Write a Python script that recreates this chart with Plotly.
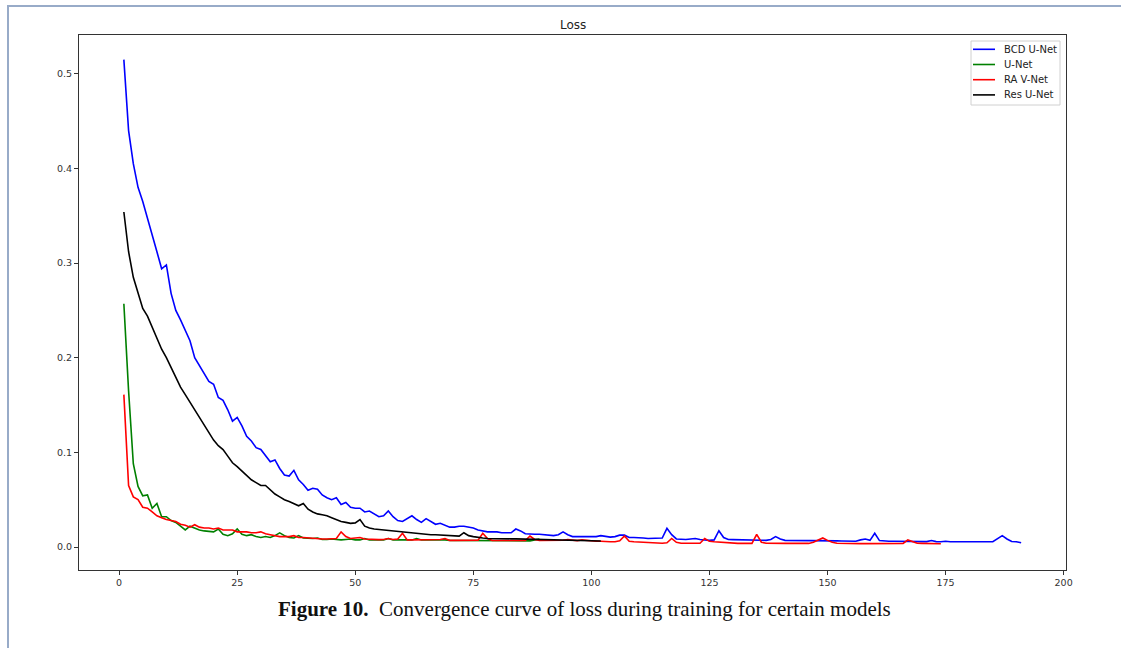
import plotly.graph_objects as go

# ---------------- data ----------------
bcd_unet = [
    0.515, 0.440, 0.405, 0.380, 0.365, 0.348, 0.330, 0.312, 0.294, 0.298,
    0.268, 0.250, 0.240, 0.228, 0.218, 0.200, 0.192, 0.183, 0.175, 0.172,
    0.158, 0.155, 0.145, 0.133, 0.137, 0.128, 0.117, 0.112, 0.105, 0.103,
    0.097, 0.090, 0.092, 0.083, 0.076, 0.075, 0.081, 0.071, 0.066, 0.060,
    0.062, 0.061, 0.055, 0.052, 0.050, 0.052, 0.045, 0.047, 0.042, 0.041,
    0.041, 0.037, 0.038, 0.035, 0.032, 0.033, 0.038, 0.032, 0.028, 0.027,
    0.030, 0.033, 0.029, 0.026, 0.030, 0.027, 0.024, 0.025, 0.023, 0.021,
    0.021, 0.022, 0.022, 0.021, 0.020, 0.018, 0.017, 0.016, 0.016, 0.016,
    0.015, 0.015, 0.015, 0.019, 0.017, 0.014, 0.0135, 0.0135, 0.0135, 0.013,
    0.012, 0.012, 0.013, 0.016, 0.013, 0.011, 0.011, 0.011, 0.011, 0.011,
    0.011, 0.012, 0.011, 0.0105, 0.011, 0.0125, 0.0125, 0.010, 0.010, 0.010,
    0.0095, 0.009, 0.009, 0.009, 0.0095, 0.0197, 0.013, 0.0085, 0.008, 0.008,
    0.0085, 0.009, 0.008, 0.0075, 0.007, 0.0075, 0.0172, 0.010, 0.008, 0.0078,
    0.0078, 0.0078, 0.0078, 0.0078, 0.0078, 0.0072, 0.007, 0.008, 0.011, 0.0085,
    0.007, 0.007, 0.007, 0.007, 0.007, 0.007, 0.0072, 0.007, 0.0068, 0.0065,
    0.0065, 0.0065, 0.0063, 0.0062, 0.006, 0.006, 0.0075, 0.0085, 0.007, 0.0145,
    0.0068, 0.006, 0.006, 0.006, 0.006, 0.006, 0.006, 0.0058, 0.0058, 0.0057,
    0.0057, 0.0068, 0.0057, 0.0056, 0.006, 0.0056, 0.0055, 0.0055, 0.0055, 0.0055,
    0.0055, 0.0055, 0.0055, 0.0055, 0.0056, 0.0085, 0.012, 0.0085, 0.0058, 0.0055,
    0.0045,
]

unet = [
    0.257, 0.165, 0.088, 0.064, 0.054, 0.055, 0.041, 0.046, 0.032, 0.032,
    0.028, 0.026, 0.022, 0.018, 0.022, 0.020, 0.018, 0.017, 0.0165, 0.016,
    0.019, 0.0135, 0.012, 0.014, 0.019, 0.0135, 0.012, 0.013, 0.011, 0.010,
    0.011, 0.010, 0.012, 0.015, 0.012, 0.010, 0.0095, 0.012, 0.0095, 0.009,
    0.009, 0.0095, 0.008, 0.008, 0.0085, 0.008, 0.0075, 0.008, 0.0085, 0.0075,
    0.0075, 0.009, 0.0075, 0.0075, 0.0075, 0.0075, 0.009, 0.0075, 0.0075, 0.0075,
    0.0075, 0.0075, 0.009, 0.0075, 0.0075, 0.0075, 0.0075, 0.008, 0.0075, 0.007,
    0.007, 0.007, 0.007, 0.007, 0.007, 0.0072, 0.007, 0.0068, 0.0068, 0.0068,
    0.0068, 0.0068, 0.0066, 0.0066, 0.0066, 0.0065, 0.0065, 0.0075, 0.0085,
]

ra_vnet = [
    0.161, 0.065, 0.053, 0.050, 0.042, 0.041, 0.037, 0.033, 0.031, 0.029,
    0.028, 0.027, 0.024, 0.023, 0.021, 0.0236, 0.021, 0.020, 0.020, 0.019,
    0.020, 0.018, 0.018, 0.018, 0.016, 0.016, 0.016, 0.015, 0.015, 0.016,
    0.014, 0.013, 0.012, 0.011, 0.011, 0.011, 0.012, 0.010, 0.010, 0.0095,
    0.009, 0.009, 0.0085, 0.0085, 0.0085, 0.009, 0.016, 0.011, 0.009, 0.0095,
    0.010, 0.0085, 0.008, 0.0075, 0.0078, 0.008, 0.009, 0.008, 0.0085, 0.0145,
    0.0075, 0.0075, 0.0075, 0.0075, 0.0075, 0.0075, 0.0078, 0.008, 0.009, 0.007,
    0.007, 0.007, 0.007, 0.0068, 0.0068, 0.0072, 0.0145, 0.009, 0.0068, 0.0068,
    0.0068, 0.0068, 0.0068, 0.0068, 0.0068, 0.0068, 0.0116, 0.008, 0.0068, 0.0068,
    0.0068, 0.0068, 0.0068, 0.0072, 0.0078, 0.007, 0.0068, 0.0075, 0.0068, 0.0065,
    0.006, 0.006, 0.0055, 0.0055, 0.0055, 0.0065, 0.0116, 0.006, 0.0055, 0.0055,
    0.005, 0.0048, 0.0045, 0.0042, 0.004, 0.0045, 0.009, 0.005, 0.004, 0.004,
    0.004, 0.004, 0.004, 0.009, 0.006, 0.0055, 0.005, 0.0045, 0.004, 0.0038,
    0.0038, 0.0038, 0.0038, 0.0038, 0.0134, 0.005, 0.004, 0.0038, 0.0038, 0.0038,
    0.0038, 0.0038, 0.0038, 0.0038, 0.0038, 0.0038, 0.005, 0.0075, 0.0096, 0.007,
    0.005, 0.004, 0.0038, 0.0037, 0.0037, 0.0037, 0.0036, 0.0036, 0.0036, 0.0036,
    0.0036, 0.0036, 0.0036, 0.0036, 0.0036, 0.0038, 0.0074, 0.0055, 0.004, 0.0038,
    0.0036, 0.0035, 0.0035, 0.0034,
]

res_unet = [
    0.354, 0.312, 0.285, 0.268, 0.252, 0.244, 0.232, 0.219, 0.209, 0.200,
    0.190, 0.179, 0.169, 0.161, 0.153, 0.145, 0.137, 0.130, 0.121, 0.113,
    0.107, 0.103, 0.096, 0.089, 0.085, 0.080, 0.075, 0.071, 0.068, 0.065,
    0.065, 0.060, 0.056, 0.053, 0.050, 0.048, 0.046, 0.0435, 0.046, 0.040,
    0.037, 0.035, 0.034, 0.033, 0.031, 0.029, 0.027, 0.026, 0.025, 0.0255,
    0.029, 0.022, 0.020, 0.019, 0.0185, 0.018, 0.017, 0.0165, 0.016, 0.0155,
    0.015, 0.0145, 0.014, 0.0138, 0.0135, 0.013, 0.013, 0.0128, 0.0125, 0.012,
    0.0118, 0.0115, 0.0151, 0.012, 0.011, 0.010, 0.0095, 0.009, 0.0088, 0.0088,
    0.0087, 0.0087, 0.0086, 0.0086, 0.0085, 0.0085, 0.0084, 0.0083, 0.008, 0.008,
    0.0078, 0.0077, 0.0076, 0.0075, 0.0073, 0.0072, 0.007, 0.0068, 0.0067, 0.0066,
    0.0065, 0.0064,
]

series_names = ["BCD U-Net", "U-Net", "RA V-Net", "Res U-Net"]
series_values = [bcd_unet, unet, ra_vnet, res_unet]
series_colors = ["#0000ff", "#008000", "#ff0000", "#000000"]

x_ticks = [0, 25, 50, 75, 100, 125, 150, 175, 200]
y_ticks = [0.0, 0.1, 0.2, 0.3, 0.4, 0.5]

title_text = "Loss"
caption_bold = "Figure 10."
caption_rest = "Convergence curve of loss during training for certain models"

# ---------------- figure ----------------
W, H = 1121, 648
ML, MR, MT, MB = 79, 55, 35, 78

fig = go.Figure()
for name, vals, col in zip(series_names, series_values, series_colors):
    fig.add_trace(go.Scatter(
        x=list(range(1, len(vals) + 1)), y=vals, mode="lines", name=name,
        line=dict(color=col, width=1.6), showlegend=False,
    ))

axis_common = dict(
    showline=True, linecolor="#333333", linewidth=1, mirror=True,
    ticks="outside", ticklen=4, tickcolor="#333333", tickwidth=1,
    showgrid=False, zeroline=False,
    tickfont=dict(family="DejaVu Sans", size=9.5, color="#333333"),
)

pw = W - ML - MR
ph = H - MT - MB


def px_x(px):
    return (px - ML) / pw


def px_y(py):
    return (H - MB - py) / ph


shapes = [
    # page frame (left and top)
    dict(type="line", xref="paper", yref="paper",
         x0=px_x(8), x1=px_x(8), y0=px_y(6), y1=px_y(700),
         line=dict(color="#98abc8", width=2)),
    dict(type="line", xref="paper", yref="paper",
         x0=px_x(7), x1=px_x(1200), y0=px_y(6), y1=px_y(6),
         line=dict(color="#98abc8", width=2)),
    # legend box
    dict(type="rect", xref="paper", yref="paper",
         x0=px_x(971), x1=px_x(1060), y0=px_y(41), y1=px_y(105),
         fillcolor="white", line=dict(color="#d0d0d0", width=1), layer="above"),
]

annotations = [
    dict(text=title_text, xref="paper", yref="paper",
         x=0.5, y=px_y(25), xanchor="center", yanchor="middle",
         showarrow=False, font=dict(family="DejaVu Sans", size=12, color="#222222")),
    dict(text="<b>" + caption_bold + "</b>\u00a0\u00a0" + caption_rest,
         xref="paper", yref="paper",
         x=px_x(584), y=px_y(609), xanchor="center", yanchor="middle",
         showarrow=False, font=dict(family="Liberation Serif", size=21, color="#111111")),
]

# custom legend entries
for i, (name, col) in enumerate(zip(series_names, series_colors)):
    yy = 49.3 + i * 15.2
    shapes.append(dict(type="line", xref="paper", yref="paper",
                       x0=px_x(973), x1=px_x(995), y0=px_y(yy), y1=px_y(yy),
                       line=dict(color=col, width=1.6), layer="above"))
    annotations.append(dict(text=name, xref="paper", yref="paper",
                            x=px_x(1002), y=px_y(yy), xanchor="left", yanchor="middle",
                            showarrow=False,
                            font=dict(family="DejaVu Sans", size=10, color="#222222")))

fig.update_layout(
    width=W, height=H,
    margin=dict(l=ML, r=MR, t=MT, b=MB, autoexpand=False),
    paper_bgcolor="white", plot_bgcolor="white",
    xaxis=dict(range=[-8.5, 200.5], tickvals=x_ticks, **axis_common),
    yaxis=dict(range=[-0.0243, 0.541], tickvals=y_ticks, tickformat=".1f", **axis_common),
    showlegend=False,
    annotations=annotations,
    shapes=shapes,
)

fig.write_html(
    "out.html",
    config={"displayModeBar": False},
    post_script="document.body.style.margin='0px';document.body.style.overflow='hidden';",
)
